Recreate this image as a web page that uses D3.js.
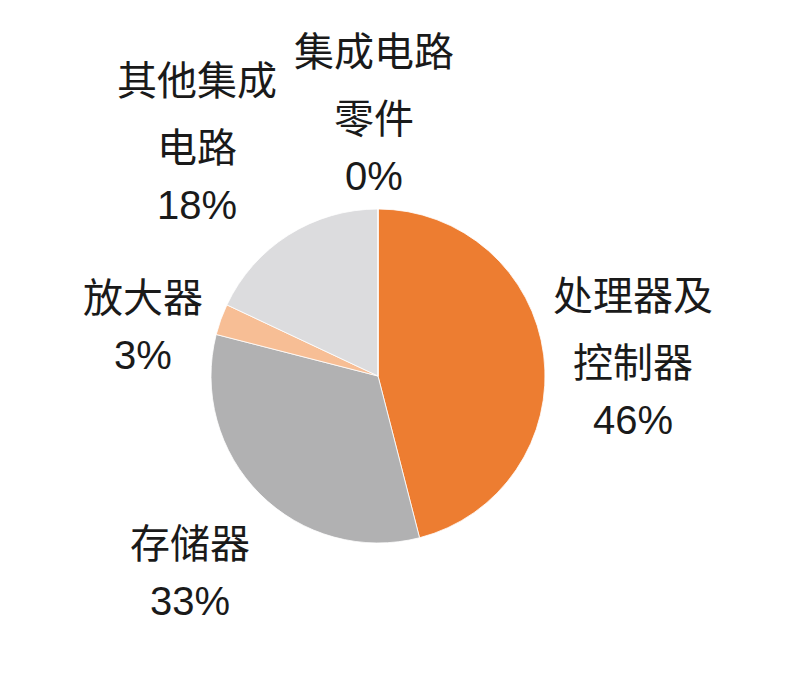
<!DOCTYPE html>
<html>
<head>
<meta charset="utf-8">
<script src="https://cdn.jsdelivr.net/npm/d3@7"></script>
<style>
  body { margin: 0; background: #fff; }
  text { font-family: "Liberation Sans", "Noto Sans CJK SC", sans-serif; fill: #1a1a1a; }
</style>
</head>
<body>
<div id="chart"></div>
<script>
// data, clockwise from 12 o'clock
var categories = ["处理器及控制器", "存储器", "放大器", "其他集成电路", "集成电路零件"]
var shares = [46, 33, 3, 18, 0]
var pctLabels = ["46%", "33%", "3%", "18%", "0%"]
// how the names wrap in the picture
var nameLines = [["处理器及", "控制器"], ["存储器"], ["放大器"], ["其他集成", "电路"], ["集成电路", "零件"]]
var colors = ["#ED7D31", "#B1B1B2", "#F7BE95", "#DCDCDE", "#C9C9C9"]

// label anchors (x centre, baseline of the first line)
var labelX = [633, 190, 143, 197, 374]
var labelY = [310, 558, 312, 95, 66]

var width = 800, height = 687
var cx = 378, cy = 376, radius = 167

var svg = d3.select("#chart")
  .append("svg")
    .attr("width", width)
    .attr("height", height)

var pie = d3.pie()
  .sort(null)
  .value(function (d) { return d })
var arc = d3.arc().innerRadius(0).outerRadius(radius)

var g = svg.append("g")
  .attr("transform", "translate(" + cx + "," + cy + ")")

g.selectAll("path")
  .data(pie(shares))
  .enter()
  .append("path")
    .attr("d", arc)
    .style("fill", function (d, i) { return colors[i] })
    .style("stroke", "#fff")
    .style("stroke-width", 0.8)

// labels
var nameStep = 67, pctStep = 57
categories.forEach(function (c, i) {
  var t = svg.append("text")
    .attr("text-anchor", "middle")
    .attr("x", labelX[i])
    .attr("y", labelY[i])
    .style("font-size", "40px")
  nameLines[i].forEach(function (line, j) {
    t.append("tspan")
      .attr("x", labelX[i])
      .attr("dy", j == 0 ? 0 : nameStep)
      .text(line)
  })
  t.append("tspan")
    .attr("x", labelX[i])
    .attr("dy", pctStep)
    .text(pctLabels[i])
})
</script>
</body>
</html>
